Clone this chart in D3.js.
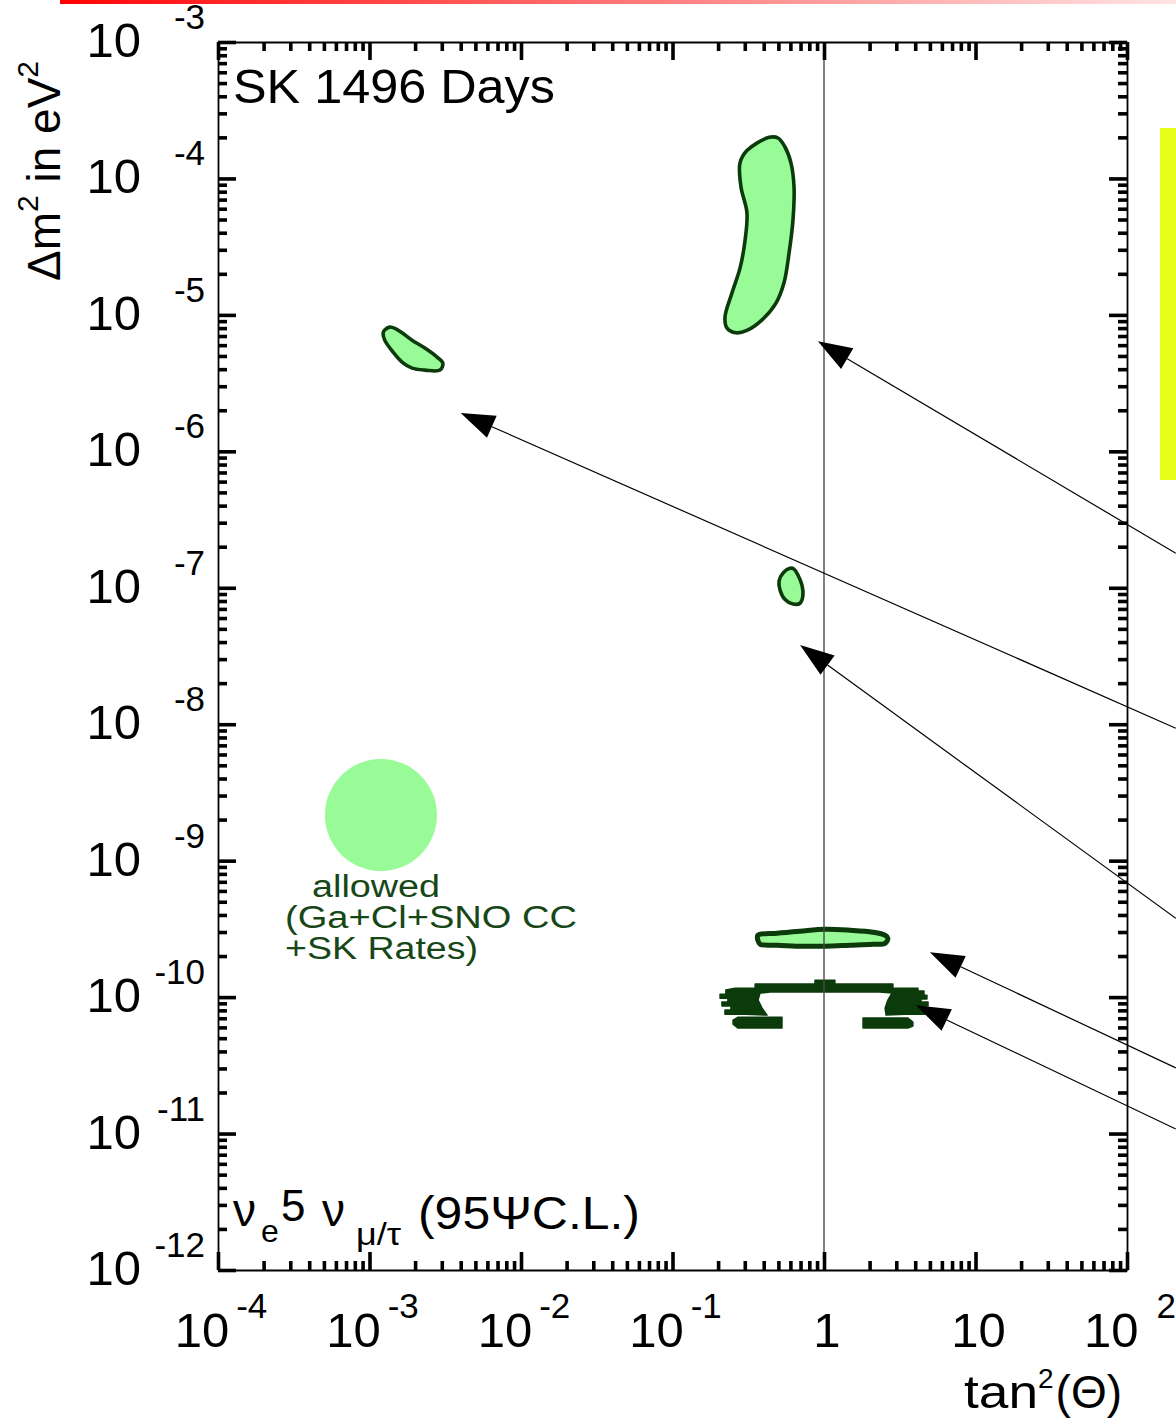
<!DOCTYPE html>
<html>
<head>
<meta charset="utf-8">
<script src="https://cdn.jsdelivr.net/npm/d3@7"></script>
<style>
  html, body { margin: 0; padding: 0; background: #ffffff; }
  svg { display: block; }
  text { font-family: "Liberation Sans", Arial, Helvetica, sans-serif; }
</style>
</head>
<body>
<svg id="chart" width="1176" height="1424"></svg>
<script>
// ---- axis decades and tick labels ----
const xLabelAt   = [1e-4, 1e-3, 1e-2, 1e-1, 1, 10, 100];
const xLabelBase = ["10", "10", "10", "10", "1", "10", "10"];
const xLabelExp  = ["-4", "-3", "-2", "-1", "", "", "2"];

const yLabelAt  = [1e-3, 1e-4, 1e-5, 1e-6, 1e-7, 1e-8, 1e-9, 1e-10, 1e-11, 1e-12];
const yLabelExp = ["-3", "-4", "-5", "-6", "-7", "-8", "-9", "-10", "-11", "-12"];

// ---- allowed regions, [tan^2(theta), delta m^2 in eV^2] ----
const lmaRegion = [
  [0.434, 2.0e-4], [0.310, 1.6e-4], [0.279, 1.3e-4], [0.283, 8.7e-5], [0.310, 5.6e-5],
  [0.301, 3.5e-5], [0.279, 2.2e-5], [0.247, 1.45e-5], [0.222, 9.6e-6], [0.229, 8.0e-6],
  [0.262, 7.4e-6], [0.310, 7.7e-6], [0.390, 9.2e-6], [0.482, 1.22e-5], [0.544, 1.71e-5],
  [0.588, 2.84e-5], [0.624, 4.96e-5], [0.634, 8.7e-5], [0.605, 1.3e-4], [0.553, 1.7e-4],
  [0.497, 1.98e-4]
];
const smaRegion = [
  [1.26e-3, 7.74e-6], [1.36e-3, 8.14e-6], [1.54e-3, 7.74e-6], [1.91e-3, 6.53e-6],
  [2.32e-3, 5.71e-6], [2.79e-3, 4.91e-6], [3.05e-3, 4.43e-6], [2.92e-3, 3.94e-6],
  [2.32e-3, 3.94e-6], [1.91e-3, 4.07e-6], [1.64e-3, 4.51e-6], [1.43e-3, 5.34e-6],
  [1.26e-3, 6.53e-6], [1.23e-3, 7.36e-6]
];
const lowRegion = [
  [0.597, 1.39e-7], [0.536, 1.28e-7], [0.505, 1.12e-7], [0.513, 9.6e-8], [0.553, 8.2e-8],
  [0.624, 7.6e-8], [0.695, 7.7e-8], [0.726, 8.8e-8], [0.716, 1.04e-7], [0.673, 1.24e-7],
  [0.634, 1.37e-7]
];
const vacUpperRegion = [
  [0.366, 2.84e-10], [0.490, 2.94e-10], [0.695, 3.04e-10], [1.016, 3.14e-10], [1.485, 3.09e-10],
  [2.10, 2.99e-10], [2.53, 2.84e-10], [2.64, 2.70e-10], [2.53, 2.48e-10], [2.10, 2.44e-10],
  [1.485, 2.40e-10], [1.016, 2.36e-10], [0.695, 2.36e-10], [0.490, 2.40e-10], [0.379, 2.44e-10],
  [0.366, 2.61e-10]
];
const vacLowerArch = [
  [0.351, 1.25e-10], [0.872, 1.25e-10], [0.872, 1.33e-10], [1.18, 1.33e-10], [1.18, 1.25e-10],
  [2.85, 1.25e-10], [2.85, 1.16e-10], [4.17, 1.16e-10], [4.17, 1.11e-10], [4.57, 1.11e-10],
  [4.57, 1.03e-10], [4.78, 1.03e-10], [4.78, 9.67e-11], [4.37, 9.67e-11], [4.37, 9.19e-11],
  [4.86, 9.19e-11], [4.86, 8.59e-11], [4.24, 8.59e-11], [4.24, 8.17e-11], [4.64, 8.17e-11],
  [4.64, 7.50e-11], [3.42, 7.50e-11], [2.57, 7.38e-11], [2.53, 8.30e-11], [2.64, 9.51e-11],
  [2.81, 1.07e-10], [2.34, 1.09e-10], [0.440, 1.09e-10], [0.378, 1.07e-10], [0.367, 9.51e-11],
  [0.390, 8.30e-11], [0.421, 7.38e-11], [0.301, 7.50e-11], [0.222, 7.50e-11], [0.222, 8.03e-11],
  [0.243, 8.03e-11], [0.243, 8.59e-11], [0.212, 8.59e-11], [0.212, 9.19e-11], [0.232, 9.19e-11],
  [0.232, 9.83e-11], [0.206, 9.83e-11], [0.206, 1.05e-10], [0.225, 1.05e-10], [0.225, 1.13e-10],
  [0.259, 1.16e-10], [0.351, 1.16e-10]
];
const vacLowerLeft = [
  [0.271, 7.13e-11], [0.528, 7.13e-11], [0.528, 5.93e-11], [0.271, 5.93e-11],
  [0.251, 6.34e-11], [0.251, 6.78e-11]
];
const vacLowerRight = [
  [1.81, 7.02e-11], [3.58, 7.02e-11], [3.86, 6.56e-11], [3.86, 6.13e-11],
  [3.58, 5.93e-11], [1.81, 5.93e-11]
];

// ---- pointer arrows: head and tail in data units ----
const arrowTips  = [[0.912, 6.4e-6], [4.0e-3, 1.91e-6], [0.695, 3.8e-8], [5.0, 2.13e-10], [4.05, 8.7e-11]];
const arrowTails = [[210, 1.79e-7], [210, 9.35e-9], [210, 3.78e-10], [210, 3.03e-11], [210, 1.08e-11]];

// ---- legend swatch for the allowed rate region ----
const allowedSwatch = [1.19e-3, 2.16e-9];
const allowedLines = ["allowed", "(Ga+Cl+SNO CC", "+SK Rates)"];

// ---------------------------------------------------------------
(function draw() {
  const svg = d3.select("#chart");
  const W = 1176;
  const pLeft = 218, pRight = 1127, pTop = 42, pBottom = 1270;

  const x = d3.scaleLog().domain([1e-4, 100]).range([pLeft, pRight]);
  const y = d3.scaleLog().domain([1e-12, 1e-3]).range([pBottom, pTop]);

  const fillGreen = "#98fb98";
  const edgeGreen = "#0b3a0b";
  const textGreen = "#174717";

  // header strip
  const defs = svg.append("defs");
  const grad = defs.append("linearGradient").attr("id", "headGrad")
    .attr("x1", "0%").attr("x2", "100%").attr("y1", "0%").attr("y2", "0%");
  grad.append("stop").attr("offset", "0%").attr("stop-color", "#ff0000");
  grad.append("stop").attr("offset", "5%").attr("stop-color", "#ff1010");
  grad.append("stop").attr("offset", "45%").attr("stop-color", "#ff6a6a");
  grad.append("stop").attr("offset", "100%").attr("stop-color", "#ffe4e4");
  svg.append("rect").attr("x", 60).attr("y", 0).attr("width", W - 60).attr("height", 4)
    .attr("fill", "url(#headGrad)");

  // side marker
  svg.append("rect").attr("x", 1160).attr("y", 128).attr("width", 16).attr("height", 352)
    .attr("fill", "#e6ff19");

  // ---- regions ----
  const smooth = d3.line().x(d => x(d[0])).y(d => y(d[1])).curve(d3.curveCatmullRomClosed.alpha(0.5));
  const blocky = d3.line().x(d => x(d[0])).y(d => y(d[1])).curve(d3.curveLinearClosed);

  const regions = svg.append("g");
  [lmaRegion, smaRegion, lowRegion].forEach(r => {
    regions.append("path").attr("d", smooth(r))
      .attr("fill", fillGreen).attr("stroke", edgeGreen).attr("stroke-width", 3.6)
      .attr("stroke-linejoin", "round");
  });
  regions.append("path").attr("d", smooth(vacUpperRegion))
    .attr("fill", fillGreen).attr("stroke", edgeGreen).attr("stroke-width", 5)
    .attr("stroke-linejoin", "round");
  [vacLowerArch, vacLowerLeft, vacLowerRight].forEach(r => {
    regions.append("path").attr("d", blocky(r))
      .attr("fill", edgeGreen).attr("stroke", edgeGreen).attr("stroke-width", 1.5)
      .attr("stroke-linejoin", "round");
  });

  // maximal mixing line
  svg.append("line")
    .attr("x1", x(1)).attr("x2", x(1)).attr("y1", pTop).attr("y2", pBottom)
    .attr("stroke", "#4a4a4a").attr("stroke-width", 1.4);

  // ---- axes with log ticks on all four sides ----
  const isMajor = v => Math.abs(Math.log10(v) - Math.round(Math.log10(v))) < 1e-6;
  const minorLen = 9, majorLen = 18;

  function styleAxis(g, horizontal, sign) {
    g.select(".domain").attr("stroke", "#000").attr("stroke-width", 1.8);
    g.selectAll(".tick line")
      .attr("stroke", "#000").attr("stroke-width", 3.6)
      .each(function(d) {
        const len = (isMajor(d) ? majorLen : minorLen) * sign;
        d3.select(this).attr(horizontal ? "y2" : "x2", len);
      });
    g.selectAll(".tick text").remove();
  }

  const xTicks = x.ticks();
  const yTicks = y.ticks();

  const gBottom = svg.append("g").attr("transform", `translate(0,${pBottom})`)
    .call(d3.axisBottom(x).tickValues(xTicks).tickFormat("").tickSizeOuter(0));
  styleAxis(gBottom, true, -1);
  const gTop = svg.append("g").attr("transform", `translate(0,${pTop})`)
    .call(d3.axisTop(x).tickValues(xTicks).tickFormat("").tickSizeOuter(0));
  styleAxis(gTop, true, 1);
  const gLeft = svg.append("g").attr("transform", `translate(${pLeft},0)`)
    .call(d3.axisLeft(y).tickValues(yTicks).tickFormat("").tickSizeOuter(0));
  styleAxis(gLeft, false, 1);
  const gRight = svg.append("g").attr("transform", `translate(${pRight},0)`)
    .call(d3.axisRight(y).tickValues(yTicks).tickFormat("").tickSizeOuter(0));
  styleAxis(gRight, false, -1);

  // ---- tick labels ----
  const xl = svg.append("g");
  xLabelAt.forEach((v, i) => {
    const t = xl.append("text").attr("x", x(v) + 3).attr("y", 1347)
      .attr("text-anchor", "middle").attr("font-size", 49).attr("fill", "#000");
    t.append("tspan").text(xLabelBase[i]);
    if (xLabelExp[i]) {
      t.append("tspan").attr("dx", xLabelExp[i].length === 1 ? 18 : 7).attr("dy", -29)
        .attr("font-size", 35).text(xLabelExp[i]);
    }
  });

  const yl = svg.append("g");
  yLabelAt.forEach((v, i) => {
    yl.append("text").attr("x", 141).attr("y", y(v) + 15)
      .attr("text-anchor", "end").attr("font-size", 49).attr("fill", "#000").text("10");
    yl.append("text").attr("x", 205).attr("y", y(v) - 13)
      .attr("text-anchor", "end").attr("font-size", 35).attr("fill", "#000").text(yLabelExp[i]);
  });

  // ---- axis titles ----
  const yt = svg.append("text").attr("transform", "translate(60,171) rotate(-90)")
    .attr("text-anchor", "middle").attr("font-size", 46).attr("fill", "#000");
  yt.append("tspan").text("Δm");
  yt.append("tspan").attr("dy", -22).attr("font-size", 30).text("2");
  yt.append("tspan").attr("dy", 22).text(" in eV");
  yt.append("tspan").attr("dy", -22).attr("font-size", 30).text("2");

  const xt = svg.append("text").attr("x", 964).attr("y", 1408)
    .attr("font-size", 46).attr("fill", "#000");
  xt.append("tspan").attr("textLength", 74).attr("lengthAdjust", "spacingAndGlyphs").text("tan");
  xt.append("tspan").attr("dy", -20).attr("font-size", 28).text("2");
  xt.append("tspan").attr("dy", 20).attr("dx", 2).text("(Θ)");

  // ---- in-plot captions ----
  svg.append("text").attr("x", 233).attr("y", 103).attr("font-size", 49)
    .attr("textLength", 322).attr("lengthAdjust", "spacingAndGlyphs")
    .attr("fill", "#000").text("SK 1496 Days");

  const cap = svg.append("g").attr("fill", "#000");
  cap.append("text").attr("x", 233).attr("y", 1226).attr("font-size", 46).text("ν");
  cap.append("text").attr("x", 261).attr("y", 1242).attr("font-size", 32).text("e");
  cap.append("text").attr("x", 281).attr("y", 1221).attr("font-size", 44).text("5");
  cap.append("text").attr("x", 322).attr("y", 1226).attr("font-size", 46).text("ν");
  cap.append("text").attr("x", 356).attr("y", 1245).attr("font-size", 32)
    .attr("textLength", 45).attr("lengthAdjust", "spacingAndGlyphs").text("μ/τ");
  cap.append("text").attr("x", 418).attr("y", 1229).attr("font-size", 46)
    .attr("textLength", 222).attr("lengthAdjust", "spacingAndGlyphs").text("(95ΨC.L.)");

  // ---- allowed-region legend ----
  svg.append("circle").attr("cx", x(allowedSwatch[0])).attr("cy", y(allowedSwatch[1]))
    .attr("r", 56).attr("fill", fillGreen);
  const lg = svg.append("g").attr("fill", textGreen).attr("font-size", 31);
  lg.append("text").attr("x", 312).attr("y", 897)
    .attr("textLength", 128).attr("lengthAdjust", "spacingAndGlyphs").text(allowedLines[0]);
  lg.append("text").attr("x", 285).attr("y", 928)
    .attr("textLength", 292).attr("lengthAdjust", "spacingAndGlyphs").text(allowedLines[1]);
  lg.append("text").attr("x", 285).attr("y", 959)
    .attr("textLength", 193).attr("lengthAdjust", "spacingAndGlyphs").text(allowedLines[2]);

  // ---- arrows ----
  const ag = svg.append("g");
  arrowTips.forEach((tip, i) => {
    const tail = arrowTails[i];
    const x1 = x(tail[0]), y1 = y(tail[1]);
    const x2 = x(tip[0]),  y2 = y(tip[1]);
    const dx = x2 - x1, dy = y2 - y1;
    const L = Math.hypot(dx, dy);
    const ux = dx / L, uy = dy / L;
    const headLen = 34, headHalf = 12;
    const bx = x2 - ux * headLen, by = y2 - uy * headLen;
    ag.append("line").attr("x1", x1).attr("y1", y1).attr("x2", bx).attr("y2", by)
      .attr("stroke", "#000").attr("stroke-width", 1.2);
    ag.append("path")
      .attr("d", `M${x2},${y2}L${bx - uy * headHalf},${by + ux * headHalf}L${bx + uy * headHalf},${by - ux * headHalf}Z`)
      .attr("fill", "#000");
  });
})();
</script>
</body>
</html>
